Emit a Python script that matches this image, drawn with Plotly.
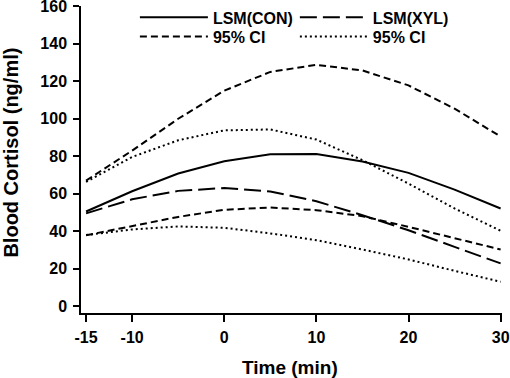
import plotly.graph_objects as go

time = [-15, -10, -5, 0, 5, 10, 15, 20, 25, 30]
lsm_con = [50.5, 61.3, 70.8, 77.3, 81.0, 81.2, 77.2, 71.1, 62.2, 52.1]
lsm_xyl = [49.5, 57.0, 61.5, 63.0, 61.2, 56.0, 48.5, 40.5, 31.6, 22.8]
con_upper = [67.0, 83.0, 100.0, 115.0, 125.0, 128.8, 125.8, 117.8, 105.4, 90.5]
con_lower = [37.8, 42.5, 47.6, 51.4, 52.6, 51.2, 48.0, 42.3, 36.1, 30.2]
xyl_upper = [66.3, 79.6, 88.5, 93.8, 94.3, 88.9, 77.9, 65.4, 52.1, 40.2]
xyl_lower = [37.9, 40.9, 42.5, 41.8, 38.8, 35.2, 30.2, 24.9, 18.8, 13.0]

x_ticks = [-15, -10, 0, 10, 20, 30]
x_tick_labels = ["-15", "-10", "0", "10", "20", "30"]
y_ticks = [0, 20, 40, 60, 80, 100, 120, 140, 160]

font = "Liberation Sans, Arial, sans-serif"
fig = go.Figure()

def add(y, name, dash, legend, show=True, group=None):
    fig.add_trace(go.Scatter(x=time, y=y, mode="lines", name=name,
                             line=dict(color="black", width=2, dash=dash),
                             showlegend=show, legendgroup=group, legend=legend))

add(lsm_con, "LSM(CON)", "solid", "legend")
add(lsm_xyl, "LSM(XYL)", "17px,6px", "legend2")
add(con_upper, "95% CI", "7px,4px", "legend3", group="c")
add(xyl_upper, "95% CI", "2px,3px", "legend4", group="x")
add(con_lower, "95% CI", "7px,4px", "legend3", show=False, group="c")
add(xyl_lower, "95% CI", "2px,3px", "legend4", show=False, group="x")

legfont = dict(size=16, family=font, weight="bold", color="black")
tickfont = dict(size=16, family=font, weight="bold", color="black")

def leg(x, y):
    return dict(x=x, y=y, xanchor="left", yanchor="middle", itemwidth=68,
                font=legfont, bgcolor="rgba(0,0,0,0)", borderwidth=0)

fig.update_layout(
    width=510, height=378,
    margin=dict(l=81, r=8, t=6, b=65, autoexpand=False),
    paper_bgcolor="white", plot_bgcolor="white",
    font=dict(family=font, color="black"),
    legend=leg(0.128, 0.963),
    legend2=leg(0.508, 0.963),
    legend3=leg(0.128, 0.900),
    legend4=leg(0.508, 0.900),
    xaxis=dict(range=[-15.55, 30.15], tickvals=x_ticks, ticktext=x_tick_labels, automargin=False,
               showline=True, linecolor="black", linewidth=1.5, ticks="outside",
               ticklen=7, tickwidth=1.5, tickcolor="black", showgrid=False, zeroline=False,
               tickfont=tickfont, ticklabelstandoff=2, ticklabeloverflow="allow"),
    yaxis=dict(range=[-3.7, 160.2], tickvals=y_ticks, automargin=False,
               showline=True, linecolor="black", linewidth=1.5, ticks="outside",
               ticklen=6, tickwidth=1.5, tickcolor="black", showgrid=False, zeroline=False,
               tickfont=tickfont, ticklabelstandoff=3, ticklabeloverflow="allow"),
    annotations=[
        dict(text="Time (min)", xref="paper", yref="paper", x=0.497, y=-0.176,
             xanchor="center", yanchor="middle", showarrow=False,
             font=dict(size=19, family=font, weight="bold", color="black")),
        dict(text="Blood Cortisol (ng/ml)", xref="paper", yref="paper", x=-0.165, y=0.521,
             xanchor="center", yanchor="middle", textangle=-90, showarrow=False,
             font=dict(size=20, family=font, weight="bold", color="black")),
    ],
)

fig.write_html("out.html", config={"displayModeBar": False},
               post_script="document.body.style.margin='0';")
